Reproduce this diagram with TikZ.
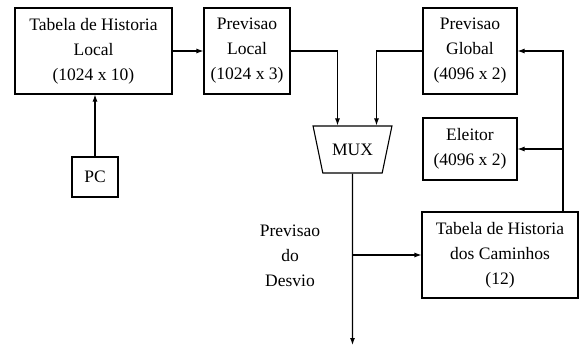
\documentclass[tikz,border=0pt]{standalone}
\usepackage{fontspec}
\setmainfont{Liberation Serif}
\usetikzlibrary{arrows.meta,shapes.geometric}

\begin{document}
\begin{tikzpicture}[x=1pt,y=-1pt]
    \tikzset{block/.style = {shape=rectangle, draw, line width=1.1pt, align=center, inner sep=0pt,
        font=\fontsize{17.5}{25}\selectfont}}
    \tikzset{mux/.style = {trapezium, draw, line width=1.1pt, shape border rotate=180,
        trapezium stretches=true, minimum width=79pt, minimum height=47pt, inner sep=0pt,
        font=\fontsize{17.5}{25}\selectfont}}
    \tikzset{arr/.style = {draw, line width=1.1pt, -{Latex[length=7pt,width=5pt]}}}
    \useasboundingbox (0,0) rectangle (579,348);

    % vertices
    \node[block, minimum width=157pt, minimum height=86pt] (tabloc) at (93.5,51) {Tabela de Historia\\Local\\(1024 x 10)};
    \node[block, minimum width=86pt, minimum height=86pt] (prevloc) at (247,51) {Previsao\\Local\\(1024 x 3)};
    \node[block, minimum width=46pt, minimum height=40pt] (pc) at (95,177) {PC};
    \node[block, minimum width=94pt, minimum height=86pt] (global) at (470,51) {Previsao\\Global\\(4096 x 2)};
    \node[block, minimum width=94pt, minimum height=62pt] (eleitor) at (470,149) {Eleitor\\(4096 x 2)};
    \node[block, minimum width=156pt, minimum height=86pt] (caminhos) at (500,255) {Tabela de Historia\\dos Caminhos\\(12)};
    \node[mux] (mx) at (352.5,149.5) {MUX};
    \node[align=center, font=\fontsize{17.5}{25}\selectfont] (desvio) at (290,256) {Previsao\\do\\Desvio};
    \coordinate (out) at (352.5,345);
    \coordinate (fb) at (563,212);

    % edges
    \draw[arr] (tabloc.east) -- (prevloc.west);
    \draw[arr] (pc.north) -- (pc.north |- tabloc.south);
    \draw[arr] (prevloc.east) -| ([xshift=-15pt]mx.north);
    \draw[arr] (global.west) -| ([xshift=24pt]mx.north);
    \draw[arr] (mx.south) -- (out);
    \draw[arr] (mx.south |- caminhos.west) -- (caminhos.west);
    \draw[arr] (fb) |- (global.east);
    \draw[arr] (fb |- eleitor.east) -- (eleitor.east);
\end{tikzpicture}
\end{document}
